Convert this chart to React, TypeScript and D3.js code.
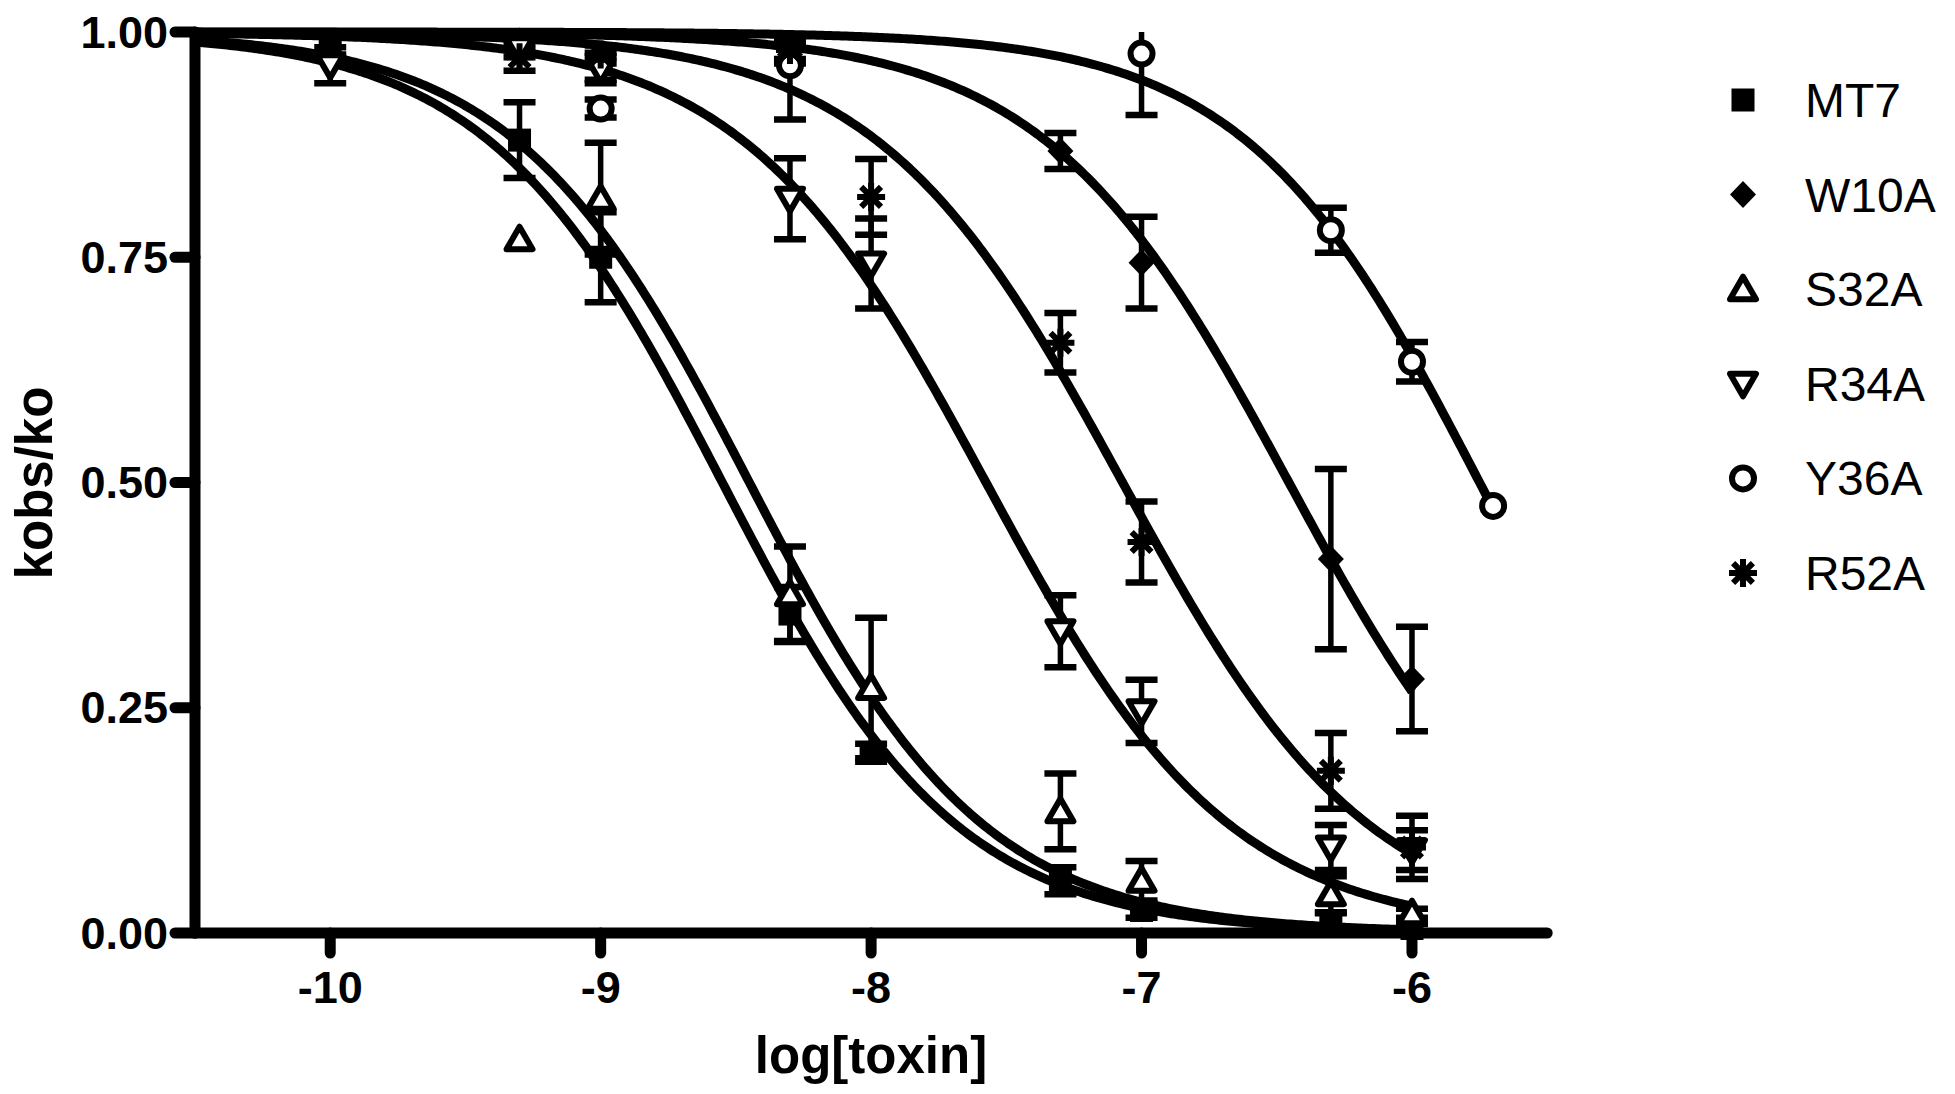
import React from 'react';
import * as d3 from 'd3';

// ---------- data ----------
const logConc = [-10, -9.3, -9, -8.3, -8, -7.3, -7, -6.3, -6, -5.7];
const seriesNames = ['MT7', 'W10A', 'S32A', 'R34A', 'Y36A', 'R52A'];
const seriesSymbols = ['square', 'diamond', 'triUp', 'triDown', 'circle', 'asterisk'];

const mt7Mean = [0.985, 0.88, 0.75, 0.354, 0.2, 0.058, 0.025, 0.012, 0.005, null];
const mt7Err = [0.01, 0.042, 0.05, 0.03, 0.01, 0.015, 0.008, 0.01, 0.005, null];
const w10aMean = [null, 0.99, 0.962, 0.975, null, 0.868, 0.744, 0.415, 0.282, null];
const w10aErr = [null, 0.01, 0.015, 0.01, null, 0.02, 0.051, 0.1, 0.058, null];
const s32aMean = [null, 0.77, 0.815, 0.376, 0.272, 0.135, 0.058, 0.043, 0.022, null];
const s32aErr = [null, 0, 0.062, 0.053, 0.078, 0.042, 0.022, 0.02, 0.005, null];
const r34aMean = [0.963, 0.982, 0.958, 0.815, 0.743, 0.335, 0.246, 0.095, 0.092, null];
const r34aErr = [0.02, 0.01, 0.015, 0.045, 0.05, 0.04, 0.035, 0.025, 0.022, null];
const y36aMean = [null, null, 0.915, 0.963, null, null, 0.976, 0.78, 0.634, 0.474];
const y36aErr = [null, null, 0.01, 0.06, null, null, 0.068, 0.025, 0.022, 0];
const r52aMean = [null, 0.972, 0.975, 0.98, 0.817, 0.655, 0.434, 0.18, 0.095, null];
const r52aErr = [null, 0.015, 0.01, 0.01, 0.042, 0.033, 0.045, 0.042, 0.035, null];

// fitted dose-response curves
const fitLogEC50 = [-8.55, -6.455, -8.45, -7.575, -5.75, -7.07];
const fitHill = [1.0, 0.96, 1.0, 0.96, 1.0, 0.95];
const fitEnd = [-6, -6, -6, -6, -5.7, -6];

const xTicks = [-10, -9, -8, -7, -6];
const yTicks = [0, 0.25, 0.5, 0.75, 1.0];
const yTickLabels = ['0.00', '0.25', '0.50', '0.75', '1.00'];
const xTitle = 'log[toxin]';
const yTitle = 'kobs/ko';

const allMeans = [mt7Mean, w10aMean, s32aMean, r34aMean, y36aMean, r52aMean];
const allErrs = [mt7Err, w10aErr, s32aErr, r34aErr, y36aErr, r52aErr];

// ---------- layout ----------
const W = 1955;
const H = 1094;
const X0 = 195;
const X1 = 1547.2;
const Y0 = 933;
const Y1 = 32;
const FONT = 'Liberation Sans, Arial, Helvetica, sans-serif';

const x = d3.scaleLinear().domain([-10.5, -5.5]).range([X0, X1]);
const y = d3.scaleLinear().domain([0, 1]).range([Y0, Y1]);

function Marker({ kind, cx, cy }: { kind: string; cx: number; cy: number }) {
  const sw = 6;
  switch (kind) {
    case 'square':
      return <rect x={cx - 11.5} y={cy - 11.5} width={23} height={23} fill="#000" />;
    case 'diamond':
      return <path d={`M${cx},${cy - 13.5}L${cx + 13},${cy}L${cx},${cy + 13.5}L${cx - 13},${cy}Z`} fill="#000" />;
    case 'triUp':
      return (
        <path
          d={`M${cx},${cy - 12.5}L${cx + 13},${cy + 10}L${cx - 13},${cy + 10}Z`}
          fill="#fff"
          stroke="#000"
          strokeWidth={sw}
          strokeLinejoin="round"
        />
      );
    case 'triDown':
      return (
        <path
          d={`M${cx},${cy + 12.5}L${cx + 13},${cy - 10}L${cx - 13},${cy - 10}Z`}
          fill="#fff"
          stroke="#000"
          strokeWidth={sw}
          strokeLinejoin="round"
        />
      );
    case 'circle':
      return <circle cx={cx} cy={cy} r={11} fill="#fff" stroke="#000" strokeWidth={sw} />;
    case 'asterisk': {
      const r = 14;
      const d = [0, 45, 90, 135]
        .map((a) => {
          const t = (a * Math.PI) / 180;
          return `M${cx - r * Math.cos(t)},${cy - r * Math.sin(t)}L${cx + r * Math.cos(t)},${cy + r * Math.sin(t)}`;
        })
        .join('');
      return <path d={d} stroke="#000" strokeWidth={6} fill="none" />;
    }
    default:
      return null;
  }
}

export default function App() {
  const line = d3
    .line<[number, number]>()
    .x((d) => x(d[0]))
    .y((d) => y(d[1]));

  const curves = seriesNames.map((_, i) => {
    const pts: [number, number][] = d3
      .range(-10.5, fitEnd[i] + 1e-9, 0.01)
      .concat([fitEnd[i]])
      .map((v) => [v, 1 / (1 + Math.pow(10, fitHill[i] * (v - fitLogEC50[i])))] as [number, number]);
    return line(pts) || '';
  });

  const capHalf = 16;

  return (
    <div style={{ position: 'absolute', left: 0, top: 0, width: W, height: H, background: '#fff' }}>
      <svg width={W} height={H} style={{ display: 'block' }}>
        <defs>
          <clipPath id="plotClip">
            <rect x={X0} y={Y1} width={X1 - X0 + 40} height={Y0 - Y1 + 10} />
          </clipPath>
        </defs>
        <rect width={W} height={H} fill="#fff" />

        {/* error bars */}
        <g clipPath="url(#plotClip)" stroke="#000" fill="none">
          {allMeans.map((means, si) =>
            means.map((m, j) => {
              const e = allErrs[si][j];
              if (m == null || e == null || e <= 0) return null;
              const cx = x(logConc[j]);
              const yt = y(m + e);
              const yb = y(m - e);
              return (
                <g key={`e-${si}-${j}`}>
                  <line x1={cx} x2={cx} y1={yt} y2={yb} strokeWidth={5.5} />
                  <line x1={cx - capHalf} x2={cx + capHalf} y1={yt} y2={yt} strokeWidth={6.5} />
                  <line x1={cx - capHalf} x2={cx + capHalf} y1={yb} y2={yb} strokeWidth={6.5} />
                </g>
              );
            })
          )}
        </g>

        {/* fitted curves */}
        <g fill="none" stroke="#000" strokeWidth={9}>
          {curves.map((d, i) => (
            <path key={`c-${i}`} d={d} />
          ))}
        </g>

        {/* markers */}
        <g>
          {allMeans.map((means, si) =>
            means.map((m, j) =>
              m == null ? null : (
                <Marker key={`m-${si}-${j}`} kind={seriesSymbols[si]} cx={x(logConc[j])} cy={y(m)} />
              )
            )
          )}
        </g>

        {/* axes */}
        <g stroke="#000" strokeWidth={11} strokeLinecap="round">
          <line x1={X0} x2={X0} y1={Y1} y2={Y0} />
          <line x1={X0} x2={X1} y1={Y0} y2={Y0} />
          {yTicks.map((t) => (
            <line key={`yt-${t}`} x1={X0 - 20} x2={X0} y1={y(t)} y2={y(t)} />
          ))}
          {xTicks.map((t) => (
            <line key={`xt-${t}`} x1={x(t)} x2={x(t)} y1={Y0} y2={Y0 + 20} />
          ))}
        </g>

        {/* tick labels */}
        <g fontFamily={FONT} fontWeight="bold" fontSize={45} fill="#000">
          {yTicks.map((t, i) => (
            <text key={`yl-${t}`} x={168} y={y(t)} textAnchor="end" dominantBaseline="central">
              {yTickLabels[i]}
            </text>
          ))}
          {xTicks.map((t) => (
            <text key={`xl-${t}`} x={x(t)} y={1003} textAnchor="middle">
              {String(t)}
            </text>
          ))}
        </g>

        {/* axis titles */}
        <text
          x={871}
          y={1073}
          textAnchor="middle"
          fontFamily={FONT}
          fontWeight="bold"
          fontSize={51}
          fill="#000"
        >
          {xTitle}
        </text>
        <text
          transform={`translate(52, 483) rotate(-90)`}
          textAnchor="middle"
          fontFamily={FONT}
          fontWeight="bold"
          fontSize={51}
          fill="#000"
        >
          {yTitle}
        </text>

        {/* legend */}
        <g>
          {seriesNames.map((name, i) => {
            const cy = 100 + i * 94.6;
            return (
              <g key={`lg-${name}`}>
                <Marker kind={seriesSymbols[i]} cx={1743} cy={cy} />
                <text x={1805} y={cy + 17} fontFamily={FONT} fontSize={48} fill="#000">
                  {name}
                </text>
              </g>
            );
          })}
        </g>
      </svg>
    </div>
  );
}
